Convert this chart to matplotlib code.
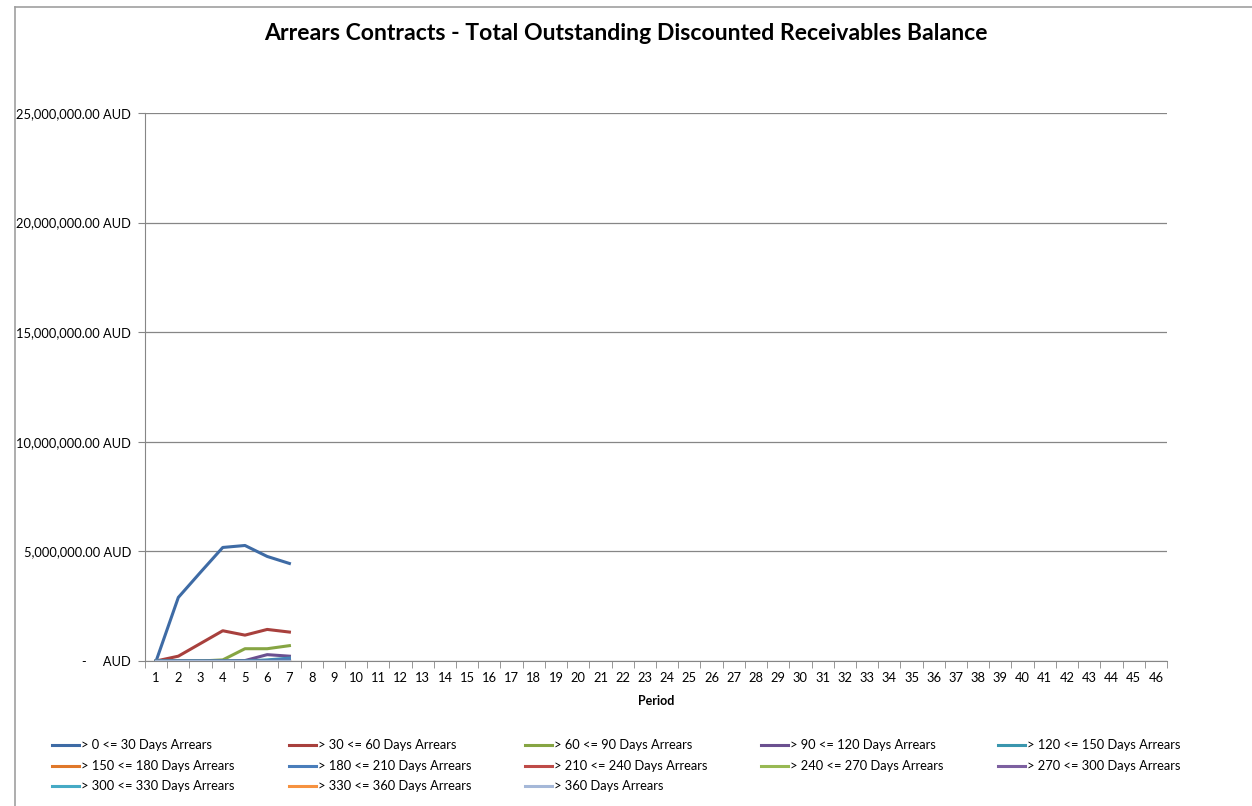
import numpy as np
import matplotlib.pyplot as plt
from matplotlib.ticker import FuncFormatter, FixedLocator
from matplotlib.lines import Line2D

plt.rcParams['font.family'] = ['Lato', 'DejaVu Sans']

### DATA ###
periods = list(range(1, 47))
series_names = ['> 0 <= 30 Days Arrears', '> 30 <= 60 Days Arrears', '> 60 <= 90 Days Arrears',
                '> 90 <= 120 Days Arrears', '> 120 <= 150 Days Arrears', '> 150 <= 180 Days Arrears',
                '> 180 <= 210 Days Arrears', '> 210 <= 240 Days Arrears', '> 240 <= 270 Days Arrears',
                '> 270 <= 300 Days Arrears', '> 300 <= 330 Days Arrears', '> 330 <= 360 Days Arrears',
                '> 360 Days Arrears']
# values for periods 1..7 (AUD), rest of the periods are empty
d0_30 = [0, 2900000, 4050000, 5180000, 5270000, 4770000, 4450000]
d30_60 = [0, 220000, 800000, 1380000, 1180000, 1440000, 1320000]
d60_90 = [0, 0, 0, 50000, 560000, 560000, 700000]
d90_120 = [0, 0, 0, 0, 20000, 290000, 220000]
d120_150 = [0, 0, 0, 0, 0, 50000, 130000]
d150_180 = [0, 0, 0, 0, 0, 0, 0]
d180_210 = [0, 0, 0, 0, 0, 20000, 100000]
d210_240 = [0, 0, 0, 0, 0, 0, 0]
d240_270 = [0, 0, 0, 0, 0, 0, 0]
d270_300 = [0, 0, 0, 0, 0, 0, 0]
d300_330 = [0, 0, 0, 0, 0, 0, 0]
d330_360 = [0, 0, 0, 0, 0, 0, 0]
d360 = [0, 0, 0, 0, 0, 0, 0]
all_series = [d0_30, d30_60, d60_90, d90_120, d120_150, d150_180, d180_210,
              d210_240, d240_270, d270_300, d300_330, d330_360, d360]

colors = ['#3E6BA5', '#A8403D', '#86A543', '#6B5090', '#3A96AE', '#E0782A',
          '#4A7EBB', '#BE4B48', '#98B954', '#7D60A0', '#46AAC5', '#F69240', '#A5B8D8']

y_ticks = [0, 5e6, 10e6, 15e6, 20e6, 25e6]

W, H = 1252, 806
fig = plt.figure(figsize=[W/100, H/100], dpi=100)
ax = fig.add_axes([145/W, 1-661/H, 1022/W, 548/H])

for vals, name, c in zip(all_series, series_names, colors):
    y = np.full(len(periods), np.nan)
    y[:len(vals)] = vals
    ax.plot(periods, y, color=c, lw=2.2, label=name, solid_joinstyle='round')

ax.set_xlim(0.5, 46.5)
ax.set_ylim(0, 25e6)
ax.set_yticks(y_ticks)
ax.yaxis.set_major_formatter(FuncFormatter(lambda v, p: '-     AUD' if v == 0 else '{:,.2f} AUD'.format(v)))
ax.set_xticks(periods)
ax.xaxis.set_minor_locator(FixedLocator(np.arange(0.5, 47, 1)))
ax.tick_params(axis='x', which='major', length=0, labelsize=9.3, pad=8)
ax.tick_params(axis='x', which='minor', length=5, color='#868686', direction='out')
ax.tick_params(axis='y', length=5, color='#868686', labelsize=9.3, pad=5)
ax.grid(axis='y', color='#868686', lw=0.9)
ax.set_axisbelow(True)
for s in ['top', 'right']:
    ax.spines[s].set_visible(False)
for s in ['left', 'bottom']:
    ax.spines[s].set_color('#868686')
ax.set_xlabel('Period', fontsize=9, fontweight='bold', labelpad=8)

fig.text(0.5, 1-34/H, 'Arrears Contracts - Total Outstanding Discounted Receivables Balance',
         ha='center', va='center', fontsize=16.6, fontweight='bold')

# legend, Excel style: equal column widths, filled row by row
col_x = [52, 289, 525, 761, 998]
row_y = [745, 766, 786]
for i, (name, c) in enumerate(zip(series_names, colors)):
    x0 = col_x[i % 5]
    y0 = 1 - row_y[i // 5] / H
    fig.add_artist(Line2D([x0/W, (x0+27)/W], [y0, y0], color=c, lw=2.2))
    fig.text((x0+29)/W, y0, name, ha='left', va='center', fontsize=9.3)

# chart area border
fig.add_artist(Line2D([14.5/W, 14.5/W], [0, 1-7/H], color='#A0A0A0', lw=1.2))
fig.add_artist(Line2D([14.5/W, 1], [1-7/H, 1-7/H], color='#A0A0A0', lw=1.2))

fig.savefig('out.png', dpi=100)
